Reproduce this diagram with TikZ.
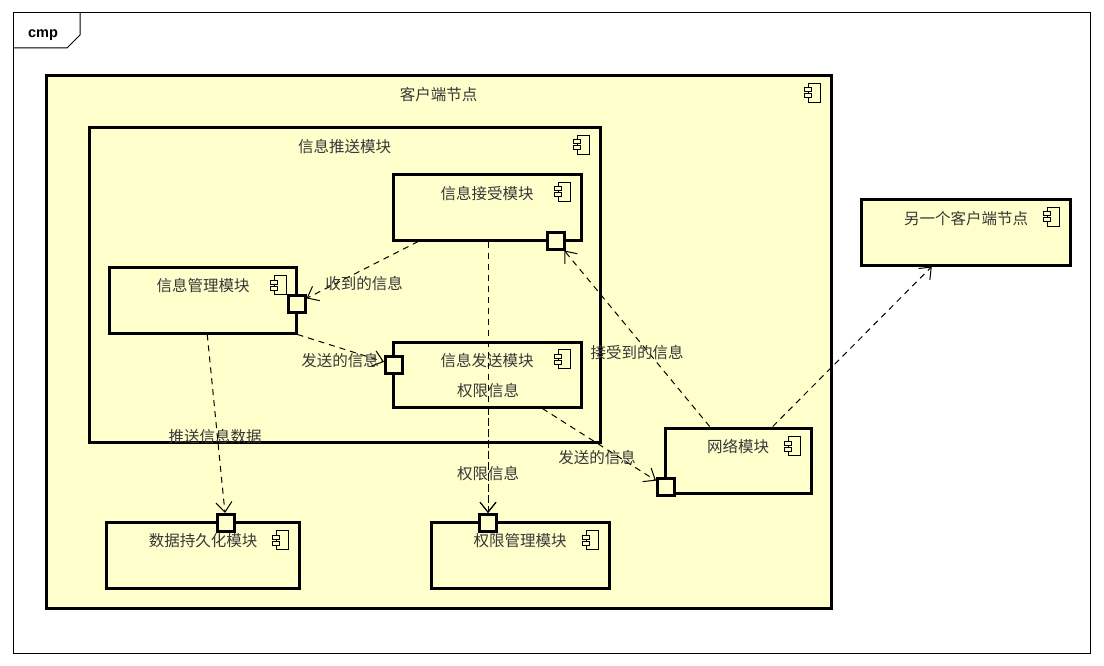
\documentclass[tikz,border=0pt]{standalone}
\usepackage{fontspec}
\newfontfamily\cjk{Noto Sans CJK SC}
\newfontfamily\cmpfont{Liberation Sans}
\usetikzlibrary{arrows.meta,calc}
\definecolor{fillY}{RGB}{255,255,204}
\definecolor{txtc}{RGB}{55,55,55}
\tikzset{
 comp/.style={draw=black, line width=3pt, fill=fillY, rectangle, anchor=north west, inner sep=0pt, outer sep=1.5pt},
 portbox/.style={draw=black, line width=3pt, fill=fillY, rectangle, minimum size=17pt, inner sep=0pt, outer sep=1.5pt},
 ttl/.style={font=\cjk\fontsize{15.5}{16}\selectfont, text=txtc, inner sep=0pt},
 lbl/.style={font=\cjk\fontsize{15.5}{16}\selectfont, text=txtc, inner sep=0pt},
 dep/.style={draw=black, line width=1pt, dash pattern=on 6pt off 5pt, -{Straight Barb[length=10pt,width=16pt,line width=1pt]}},
 compicon/.pic={
   \draw[line width=1pt, fill=fillY] (-5,-9.5) rectangle (7,9.5);
   \draw[line width=1pt, fill=fillY] (-9,-5) rectangle (-2,-1);
   \draw[line width=1pt, fill=fillY] (-9,1) rectangle (-2,5);
 }
}
\begin{document}
\begin{tikzpicture}[x=1pt,y=-1pt]
\useasboundingbox (0,0) rectangle (1104,666);
\fill[white] (0,0) rectangle (1104,666);
% frame
\draw[line width=1pt] (13,13) rectangle (1090,653);
\draw[line width=1pt] (80,13) -- (80,35) -- (67,48) -- (13,48);
\node[font=\cmpfont\bfseries\fontsize{14.5}{15}\selectfont, inner sep=0pt, anchor=base] (cmp) at (43,37.5) {cmp};

% client node
\node[comp, minimum width=785pt, minimum height=532pt] (client) at (44.5,74.5) {};
\node[ttl] (tclient) at (438.5,94.5) {客户端节点};
\pic at (813,93) {compicon};

% push module
\node[comp, minimum width=511pt, minimum height=314pt] (push) at (87.5,126.5) {};
\node[ttl] (tpush) at (344.5,146.5) {信息推送模块};
\pic at (582,145) {compicon};

% receive
\node[comp, minimum width=188pt, minimum height=65pt] (recv) at (391.5,173.5) {};
\node[ttl] (trecv) at (487,194) {信息接受模块};
\pic at (563,192) {compicon};

% manage
\node[comp, minimum width=187pt, minimum height=66pt] (mgr) at (107.5,265.5) {};
\node[ttl] (tmgr) at (203,286) {信息管理模块};
\pic at (279,285) {compicon};

% send
\node[comp, minimum width=188pt, minimum height=65pt] (send) at (391.5,340.5) {};
\node[ttl] (tsend) at (487,360.5) {信息发送模块};
\pic at (563,359) {compicon};

% network
\node[comp, minimum width=146pt, minimum height=65pt] (net) at (663.5,426.5) {};
\node[ttl] (tnet) at (738,447) {网络模块};
\pic at (793,446) {compicon};

% other client
\node[comp, minimum width=209pt, minimum height=65pt] (other) at (859.5,198.5) {};
\node[ttl] (tother) at (966,218.5) {另一个客户端节点};
\pic at (1052,217) {compicon};

% data persistence
\node[comp, minimum width=193pt, minimum height=66pt] (data) at (104.5,520.5) {};
\node[ttl] (tdata) at (203,541) {数据持久化模块};
\pic at (281,540) {compicon};

% auth
\node[comp, minimum width=178pt, minimum height=66pt] (auth) at (429.5,520.5) {};
\node[ttl] (tauth) at (520,541) {权限管理模块};
\pic at (591,540) {compicon};

% ports
\node[portbox] (precv) at (556,240.5) {};
\node[portbox] (pmgr) at (296.5,303.5) {};
\node[portbox] (psend) at (394,365) {};
\node[portbox] (pnet) at (666,487) {};
\node[portbox] (pdata) at (226,523) {};
\node[portbox] (pauth) at (488,523) {};

% connectors
\draw[dep] ($(recv.south west)!0.14!(recv.south east)$) -- (pmgr);
\draw[dep] (mgr.south east) -- (psend);
\draw[dep] (recv.south -| pauth) -- (pauth);
\draw[dep] (send.south -| pauth) -- (pauth);
\draw[dep] ($(mgr.south west)!0.525!(mgr.south east)$) -- (pdata);
\draw[dep] ($(net.north west)!0.31!(net.north east)$) -- (precv);
\draw[dep] ($(send.south west)!0.79!(send.south east)$) -- (pnet);
\draw[dep] ($(net.north west)!0.733!(net.north east)$) -- (other);

% labels
\node[lbl] (l1) at (364,284) {收到的信息};
\node[lbl] (l2) at (340,361) {发送的信息};
\node[lbl] (l3) at (215,437) {推送信息数据};
\node[lbl] (l4) at (488,391) {权限信息};
\node[lbl] (l5) at (488,474) {权限信息};
\node[lbl] (l6) at (637,353) {接受到的信息};
\node[lbl] (l7) at (597,458) {发送的信息};
\end{tikzpicture}
\end{document}
